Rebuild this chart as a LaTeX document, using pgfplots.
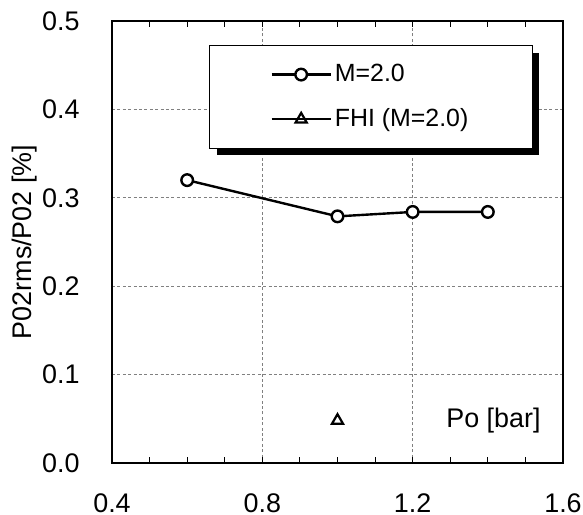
\documentclass[border=0pt]{standalone}
\usepackage{fontspec}
\setmainfont{Liberation Sans}
\usepackage{pgfplots}
\pgfplotsset{compat=1.18}

\begin{document}
\begin{tikzpicture}[font=\fontsize{13.5}{16}\selectfont]
\begin{axis}[
  scale only axis, width=225.5bp, height=221bp,
  xmin=0.4, xmax=1.6, ymin=0, ymax=0.5,
  xtick={0.4,0.8,1.2,1.6}, ytick={0,0.1,0.2,0.3,0.4,0.5},
  minor x tick num=3,
  tick align=inside,
  major tick length=3bp, minor tick length=3bp,
  ytick style={draw=none},
  tick style={black, line width=0.5bp},
  grid=major,
  major grid style={gray, line width=0.5bp, dash pattern=on 1.5bp off 1.2bp},
  axis line style={line width=1.2bp},
  /pgf/number format/assume math mode=true,
  /pgf/number format/fixed,
  /pgf/number format/fixed zerofill,
  /pgf/number format/precision=1,
  every x tick label/.append style={inner ysep=0pt, yshift=-15bp},
  every y tick label/.append style={inner xsep=0pt, xshift=-16bp},
  tick label style={font=\fontsize{13.5}{16}\selectfont},
  ylabel={P02rms/P02 [\%]},
  ylabel style={at={(axis description cs:-0.193,0.5)}, anchor=center, font=\fontsize{13.5}{16}\selectfont},
  legend style={name=leg, at={(axis cs:0.658,0.473)}, anchor=north west,
    draw=black, line width=0.5bp, fill=white,
    inner xsep=30.5bp, inner ysep=7.5bp, row sep=8bp,
    nodes={inner xsep=1.5bp, inner ysep=2bp},
    font=\fontsize{12.5}{15}\selectfont},
  legend cell align=left,
  legend image code/.code={\draw[mark repeat=2,mark phase=2,#1,line width=1.2bp] plot coordinates {(0bp,0bp) (14.75bp,0bp) (29.5bp,0bp)};},
]
\addplot[black, line width=1.2bp, mark=*, mark size=2.9bp,
  mark options={fill=white, line width=1.2bp}]
  coordinates {(0.6,0.320) (1.0,0.279) (1.2,0.284) (1.4,0.284)};
\addlegendentry{M=2.0}
\addplot[black, line width=1.2bp, mark=triangle, mark size=3.2bp,
  mark options={line width=1.1bp}]
  coordinates {(1.0,0.048)};
\addlegendentry{FHI (M=2.0)}
\node at (axis cs:1.415,0.048) {Po [bar]};
\coordinate (sw) at (rel axis cs:0,0);
\coordinate (ne) at (rel axis cs:1,1);
\end{axis}
\fill[black] ([shift={(0bp,-4bp)}]leg.north east) rectangle ([shift={(3bp,-3bp)}]leg.south east);
\fill[black] ([shift={(4bp,0bp)}]leg.south west) rectangle ([shift={(3bp,-3bp)}]leg.south east);
\pgfresetboundingbox
\path ([shift={(-56bp,-26bp)}]sw) rectangle ([shift={(10bp,10.5bp)}]ne);
\end{tikzpicture}
\end{document}
